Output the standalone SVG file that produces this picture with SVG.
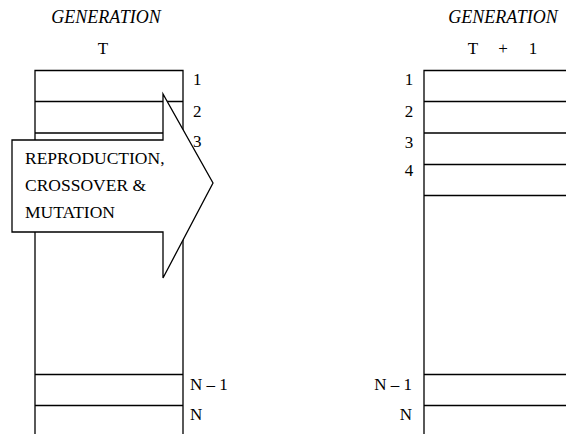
<svg xmlns="http://www.w3.org/2000/svg" width="566" height="434" viewBox="0 0 566 434">
<style>
.ln{stroke:#000;stroke-width:1.3;fill:none}
.t{font-family:"Liberation Serif","Times New Roman",serif;fill:#000}
.h{font-size:18px;font-style:italic}
.n{font-size:17px}
.a{font-size:17.5px}
</style>
<rect width="566" height="434" fill="#fff"/>
<g id="title-left">
<text class="t h" x="106" y="23" text-anchor="middle">GENERATION</text>
<text class="t n" x="103" y="54" text-anchor="middle">T</text>
</g>
<g id="title-right">
<text class="t h" x="503" y="23" text-anchor="middle">GENERATION</text>
<text class="t n" x="473" y="54" text-anchor="middle">T</text>
<text class="t n" x="503" y="54" text-anchor="middle">+</text>
<text class="t n" x="533" y="54" text-anchor="middle">1</text>
</g>
<g id="population-t">
<path class="ln" d="M35,434 V70.5 H183 V434 M35,101.5 H183 M35,133 H183 M35,374.5 H183 M35,405.5 H183"/>
<text class="t n" x="193" y="85">1</text>
<text class="t n" x="193" y="117">2</text>
<text class="t n" x="193" y="147">3</text>
<text class="t n" x="190" y="390">N – 1</text>
<text class="t n" x="190" y="420">N</text>
</g>
<g id="population-t1">
<path class="ln" d="M424,434 V70.5 H566 M424,101.5 H566 M424,133 H566 M424,164.5 H566 M424,195.5 H566 M424,374.5 H566 M424,405.5 H566"/>
<text class="t n" x="409" y="85" text-anchor="middle">1</text>
<text class="t n" x="409" y="117" text-anchor="middle">2</text>
<text class="t n" x="409" y="148" text-anchor="middle">3</text>
<text class="t n" x="409" y="176" text-anchor="middle">4</text>
<text class="t n" x="412" y="390" text-anchor="end">N – 1</text>
<text class="t n" x="412" y="420" text-anchor="end">N</text>
</g>
<g id="arrow">
<polygon points="12,140 163,140 163,94 213,183 163,278 163,232 12,232" fill="#fff" stroke="#000" stroke-width="1.3"/>
<text class="t a" x="25" y="164">REPRODUCTION,</text>
<text class="t a" x="25" y="191">CROSSOVER &amp;</text>
<text class="t a" x="25" y="218">MUTATION</text>
</g>
<g id="connectors"/>
</svg>
